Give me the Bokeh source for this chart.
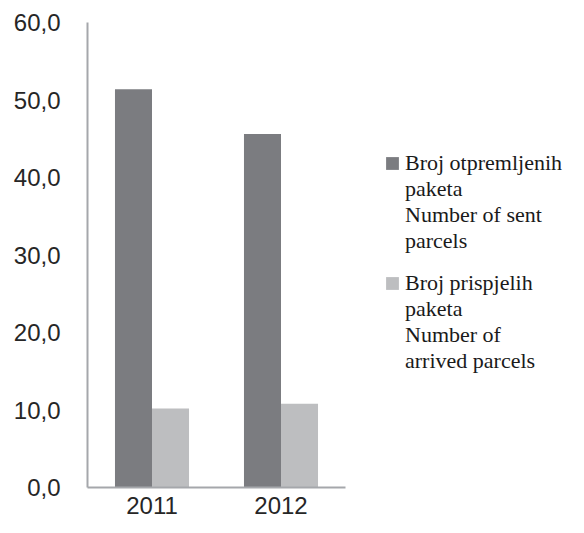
from bokeh.plotting import figure
from bokeh.layouts import row
from bokeh.models import Legend, LegendItem, ColumnDataSource, FactorRange, Range1d, CustomJSTickFormatter, FixedTicker
from bokeh.transform import dodge
from bokeh.embed import file_html
from bokeh.resources import INLINE

years = ["2011", "2012"]
sent = [51.4, 45.6]
arrived = [10.2, 10.8]
y_ticks = [0, 10, 20, 30, 40, 50, 60]
sent_first = "Broj otpremljenih"
sent_rest = "paketa\nNumber of sent\nparcels"
arrived_first = "Broj prispjelih"
arrived_rest = "paketa\nNumber of\narrived parcels"
dark = "#7b7c80"
light = "#bdbec0"

src = ColumnDataSource(dict(year=years, sent=sent, arrived=arrived))

p = figure(x_range=FactorRange(*years), y_range=Range1d(0, 60),
           width=360, height=517, output_backend="svg", toolbar_location=None,
           min_border_left=87, min_border_right=15, min_border_top=22, min_border_bottom=30)
p.outline_line_color = None
p.grid.grid_line_color = None

w = 0.287
p.vbar(x=dodge("year", -w / 2, range=p.x_range), top="sent", width=w, source=src,
       fill_color=dark, line_color=None)
p.vbar(x=dodge("year", w / 2, range=p.x_range), top="arrived", width=w, source=src,
       fill_color=light, line_color=None)

for ax in (p.xaxis, p.yaxis):
    ax.axis_line_color = "#a5a7ab"
    ax.axis_line_width = 2
    ax.major_tick_line_color = None
    ax.minor_tick_line_color = None
    ax.major_label_text_font = "Liberation Sans"
    ax.major_label_text_font_size = "24px"
    ax.major_label_text_color = "#262626"

p.yaxis.ticker = FixedTicker(ticks=y_ticks)
p.yaxis.formatter = CustomJSTickFormatter(code="return tick.toFixed(1).replace('.', ',');")
p.yaxis.major_label_standoff = 21
p.xaxis.major_label_standoff = 3

# legend panel (keys drawn by hidden copies of the two series)
q = figure(width=208, height=517, output_backend="svg", toolbar_location=None,
           x_axis_type=None, y_axis_type=None, min_border=0,
           x_range=Range1d(0, 1), y_range=Range1d(0, 1))
q.outline_line_color = None
q.grid.grid_line_color = None
g_dark = q.vbar(x=years, top=sent, width=1, fill_color=dark, line_color=None, visible=False)
g_light = q.vbar(x=years, top=arrived, width=1, fill_color=light, line_color=None, visible=False)
g_blank = q.vbar(x=years, top=sent, width=1, fill_alpha=0, line_alpha=0, visible=False)


def make_legend(first, rest, glyph, loc):
    lg = Legend(items=[LegendItem(label=first, renderers=[glyph]),
                       LegendItem(label=rest, renderers=[g_blank])],
                location=loc, orientation="vertical")
    lg.label_text_font = "Liberation Serif"
    lg.label_text_font_size = "22px"
    lg.label_text_color = "#1a1a1a"
    lg.label_text_line_height = 1.15
    lg.glyph_width = 16
    lg.glyph_height = 16
    lg.label_standoff = 5
    lg.spacing = 0
    lg.padding = 0
    lg.margin = 0
    lg.border_line_color = None
    lg.background_fill_alpha = 0
    return lg


q.add_layout(make_legend(sent_first, sent_rest, g_dark, (24, 233)), "center")
q.add_layout(make_legend(arrived_first, arrived_rest, g_light, (24, 113)), "center")

layout = row(p, q, spacing=0)
open("out.html", "w").write(file_html(layout, INLINE))
